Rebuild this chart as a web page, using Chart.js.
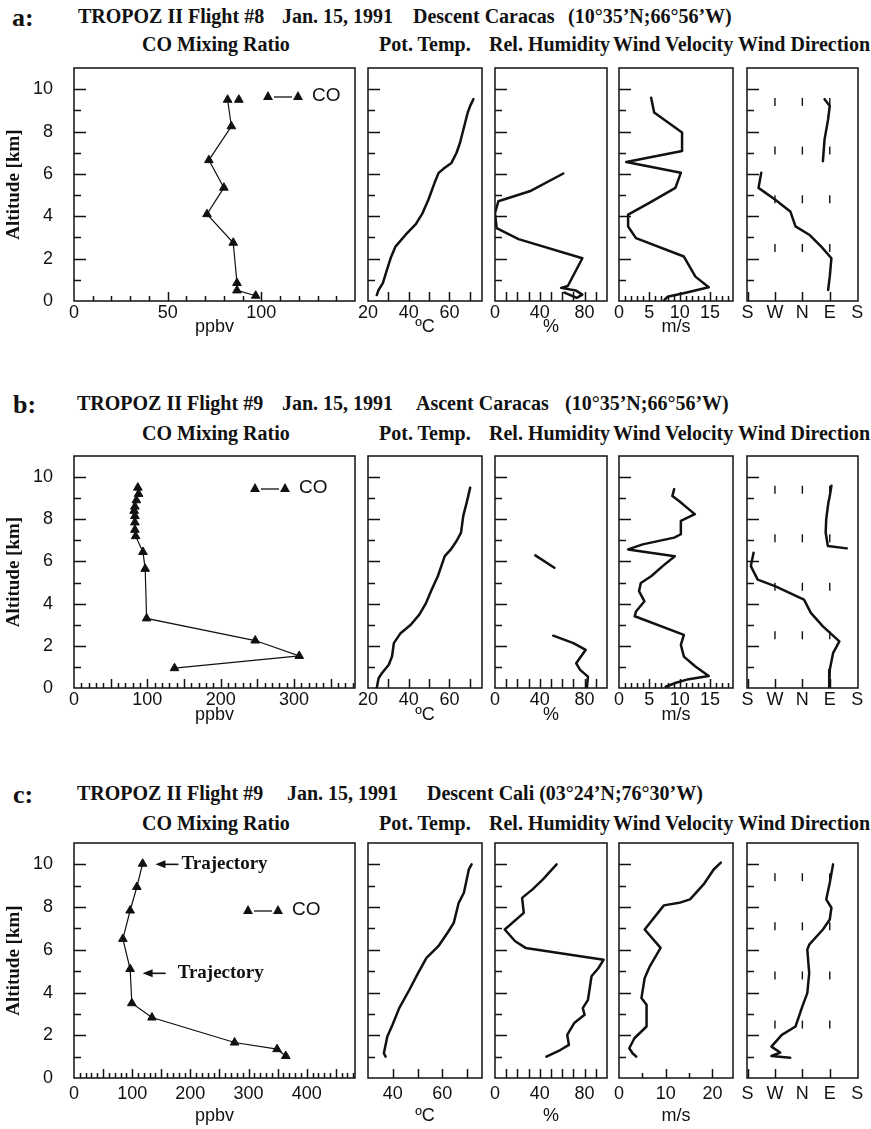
<!DOCTYPE html>
<html>
<head>
<meta charset="utf-8">
<title>TROPOZ II profiles</title>
<script src="https://cdn.jsdelivr.net/npm/chart.js@4.4.1/dist/chart.umd.min.js"></script>
<style>
  html, body { margin: 0; padding: 0; background: #fff; }
  #page { position: relative; width: 871px; height: 1129px; overflow: hidden; }
  #page canvas { position: absolute; }
  .lbl { position: absolute; white-space: pre; font-family: "Liberation Serif", "Times New Roman", serif;
         font-weight: bold; color: #111; line-height: 1; }
</style>
</head>
<body>
<div id="page"></div>
<script>
// values; altitude in km
// wind direction in quarter turns starting at S (S=0, W=1, N=2, E=3, S=4), null = gap in the trace

// a: flight #8, descent Caracas
const aCoPpbv = [88, null, 82, 84, 72, 80, 71, 85, 87, 87, 97];
const aCoAlt = [9.5, null, 9.5, 8.25, 6.65, 5.35, 4.1, 2.75, 0.85, 0.5, 0.25];
const aThetaC = [24.3, 25.2, 27.3, 29.3, 31.3, 33.5, 38.5, 43.5, 46.8, 49.7, 52.7, 54.7, 57.7, 61, 63.5, 65.2, 67.3, 69, 70.2, 71.8];
const aThetaAlt = [0.28, 0.52, 0.84, 1.47, 2.07, 2.57, 3.13, 3.63, 4.15, 4.79, 5.58, 6.05, 6.29, 6.52, 7.0, 7.47, 8.26, 8.9, 9.21, 9.53];
const aRhPct = [61, 31, 3, 0, 1.5, 21, 78, 65, 59, 72, 78, 73, 62];
const aRhAlt = [6.02, 5.18, 4.71, 4.15, 3.44, 2.92, 2.02, 0.71, 0.62, 0.5, 0.3, 0.15, 0.4];
const aWindMs = [5.3, 5.8, 10.4, 10.4, 1.2, 10.2, 9.3, 5.0, 1.5, 1.5, 2.8, 10.7, 12.6, 14.8, 11, 8.0, 7.5];
const aWindAlt = [9.6, 8.9, 7.95, 7.08, 6.56, 6.05, 5.34, 4.63, 4.08, 3.52, 2.97, 2.1, 1.15, 0.65, 0.39, 0.2, 0.05];
const aDirQ = [2.81, 3.0, 2.94, 2.81, 2.75, null, 0.5, 0.4, 1.0, 1.56, 1.75, 2.25, 2.69, 3.06, 3.0, 2.94];
const aDirAlt = [9.53, 9.21, 8.58, 7.63, 6.6, null, 6.05, 5.34, 4.79, 4.23, 3.52, 3.13, 2.57, 2.02, 1.15, 0.52];

// b: flight #9, ascent Caracas
const bCoPpbv = [87, 88, 85, 83, 82, 83, 83, 83, 84, 94, 97, 99, 247, 307, 137];
const bCoAlt = [9.5, 9.2, 8.9, 8.6, 8.4, 8.15, 7.85, 7.5, 7.2, 6.45, 5.65, 3.3, 2.25, 1.52, 0.94];
const bThetaC = [24.3, 25.2, 26.8, 30.2, 31.8, 32.7, 36, 41, 45.2, 48.5, 51.3, 54.3, 57.7, 60.7, 63.5, 65.7, 66.8, 68.5, 70.2];
const bThetaAlt = [0, 0.46, 0.7, 1.1, 1.49, 2.13, 2.6, 3.0, 3.48, 4.03, 4.67, 5.3, 6.25, 6.57, 6.97, 7.37, 8.16, 8.8, 9.5];
const bRhPct = [36, 53, null, 52, 70, 81, 72.5, 76, 83, 82];
const bRhAlt = [6.29, 5.7, null, 2.48, 2.13, 1.81, 1.17, 0.86, 0.54, 0];
const bWindMs = [9.1, 8.8, 9.9, 11.5, 12.5, 10.2, 10.2, 9.1, 3.9, 1.5, 9.2, 7.2, 5.3, 3.6, 3.3, 4.2, 2.8, 2.6, 10.7, 10.2, 10.7, 12.6, 14.8, 11.5, 9.4, 7.7];
const bWindAlt = [9.43, 9.1, 8.87, 8.48, 8.24, 7.92, 7.29, 7.13, 6.81, 6.57, 6.25, 5.78, 5.3, 4.98, 4.59, 4.11, 3.63, 3.4, 2.52, 2.05, 1.49, 1.02, 0.57, 0.42, 0.25, 0.06];
const bDirQ = [3.06, 3.0, 2.95, 2.87, 2.85, 2.93, 3.62, null, 0.22, 0.12, 0.37, 1.0, 2.06, 2.31, 2.75, 3.35, 3.12, 3.0, 2.98];
const bDirAlt = [9.59, 9.1, 8.8, 8.0, 7.37, 6.73, 6.62, null, 6.41, 5.78, 5.14, 4.83, 4.19, 3.56, 2.92, 2.21, 1.65, 0.86, 0];

// c: flight #9, descent Cali
const cCoPpbv = [118, 108, 96.5, 84, 96.5, 99.4, 134, 276, 349, 364];
const cCoAlt = [10.03, 8.94, 7.84, 6.51, 5.1, 3.5, 2.83, 1.66, 1.35, 1.03];
const cThetaC = [37.1, 36.4, 37.8, 39.9, 42.6, 46.7, 50.2, 53.6, 58.4, 62.5, 64.6, 66.6, 68.7, 70.7, 71.8];
const cThetaAlt = [1.0, 1.16, 1.94, 2.49, 3.27, 4.13, 4.91, 5.62, 6.17, 6.87, 7.26, 8.2, 8.67, 9.77, 10.0];
const cRhPct = [55, 42.8, 33.5, 24.2, 25.7, 8.7, 18, 27.3, 97, 92.4, 86.2, 83, 78.4, 80, 70.7, 64.5, 66, 58.3, 45.9];
const cRhAlt = [10.0, 9.3, 8.83, 8.43, 7.73, 6.95, 6.4, 6.09, 5.54, 5.15, 4.76, 3.66, 3.27, 2.96, 2.57, 2.02, 1.55, 1.31, 1.0];
const cWindMs = [21.8, 20.3, 18.1, 15.2, 12.9, 9.6, 5.5, 8.9, 6.6, 5.5, 4.8, 5.9, 5.9, 3.3, 2.2, 2.9, 3.7];
const cWindAlt = [10.08, 9.77, 9.06, 8.36, 8.2, 8.08, 6.95, 6.09, 5.23, 4.68, 3.74, 3.43, 2.41, 1.86, 1.39, 1.16, 1.0];
const cDirQ = [3.12, 3.0, 2.87, 3.06, 3.0, 2.75, 2.25, 2.18, 2.25, 2.18, 2.0, 1.75, 1.25, 0.87, 1.19, 0.87, 1.56];
const cDirAlt = [10.0, 9.14, 8.36, 7.97, 7.42, 6.95, 6.24, 6.01, 4.91, 3.97, 3.35, 2.41, 2.02, 1.47, 1.19, 1.03, 0.95];

// small guide marks in the wind direction boxes
const markAlt = [2.5, 4.8, 7.1, 9.4];
const markDir = [1, 2, 3];
const dirNames = ['S', 'W', 'N', 'E', 'S'];

// "Trajectory" arrows in panel c (ppbv, km)
const trajPpbv = [140, 118];
const trajAlt = [10.0, 4.9];

const ink = '#111';
const serif = '"Liberation Serif", "Times New Roman", serif';
const sans = '"Liberation Sans", Arial, sans-serif';
const page = document.getElementById('page');

function addText(x, cy, size, s) {
  const d = document.createElement('div');
  d.className = 'lbl';
  d.style.left = x + 'px';
  d.style.top = (cy - size * 0.51) + 'px';
  d.style.fontSize = size + 'px';
  d.textContent = s;
  page.appendChild(d);
}

const xy = (xs, ys) => xs.map((v, i) => ({x: v, y: ys[i]}));

function tri(ctx, x, y) {
  ctx.beginPath();
  ctx.moveTo(x, y - 5);
  ctx.lineTo(x + 5, y + 4);
  ctx.lineTo(x - 5, y + 4);
  ctx.closePath();
  ctx.fill();
}

// box with inward ticks, like the original
const framePlugin = {
  id: 'frame',
  afterDraw(chart, args, o) {
    const {ctx, chartArea: a} = chart;
    const xs = chart.scales.x, ys = chart.scales.y;
    ctx.save();
    ctx.strokeStyle = ink;
    ctx.lineWidth = 1.5;
    ctx.strokeRect(a.left, a.top, a.right - a.left, a.bottom - a.top);
    ctx.beginPath();
    for (let v = 1; v < ys.max; v++) {
      const py = Math.round(ys.getPixelForValue(v)) + 0.5;
      ctx.moveTo(a.left, py);
      ctx.lineTo(a.left + (v % 2 === 0 ? 12 : 7), py);
    }
    const first = Math.ceil(xs.min / o.minor) * o.minor;
    for (let v = first; v < xs.max; v += o.minor) {
      const px = Math.round(xs.getPixelForValue(v)) + 0.5;
      if (px <= a.left + 1 || px >= a.right - 1) continue;
      const major = Math.abs(v / o.major - Math.round(v / o.major)) < 1e-6;
      ctx.moveTo(px, a.bottom);
      ctx.lineTo(px, a.bottom - (major ? 9 : 5));
    }
    ctx.stroke();
    ctx.restore();
  }
};

// CO key and trajectory arrows
const notesPlugin = {
  id: 'notes',
  afterDatasetsDraw(chart, args, o) {
    const {ctx, chartArea: a} = chart;
    ctx.save();
    ctx.fillStyle = ink;
    ctx.strokeStyle = ink;
    if (o.key) {
      const x0 = a.left + o.key[0], y0 = a.top + o.key[1];
      tri(ctx, x0, y0);
      tri(ctx, x0 + 30, y0);
      ctx.lineWidth = 1.3;
      ctx.beginPath();
      ctx.moveTo(x0 + 6, y0 + 1);
      ctx.lineTo(x0 + 24, y0 + 1);
      ctx.stroke();
      ctx.font = '19px ' + sans;
      ctx.textBaseline = 'middle';
      ctx.fillText('CO', x0 + 44, y0);
    }
    if (o.arrows) {
      const xs = chart.scales.x, ys = chart.scales.y;
      o.arrows.forEach((ar, i) => {
        const px = xs.getPixelForValue(trajPpbv[i]);
        const py = ys.getPixelForValue(trajAlt[i]);
        ctx.beginPath();
        ctx.moveTo(px, py);
        ctx.lineTo(px + 10, py - 4);
        ctx.lineTo(px + 10, py + 4);
        ctx.closePath();
        ctx.fill();
        ctx.lineWidth = 1.6;
        ctx.beginPath();
        ctx.moveTo(px + 8, py);
        ctx.lineTo(px + ar.shaft, py);
        ctx.stroke();
        ctx.font = 'bold 19px ' + serif;
        ctx.textBaseline = 'middle';
        ctx.fillText('Trajectory', px + ar.shaft + ar.gap, py);
      });
    }
    ctx.restore();
  }
};

const line = (xs, ys) => ({
  data: xy(xs, ys), showLine: true, borderColor: ink, borderWidth: 2.5,
  pointRadius: 0, spanGaps: false, borderJoinStyle: 'round', borderCapStyle: 'round'
});
const coLine = (xs, ys) => ({
  data: xy(xs, ys), showLine: true, borderColor: ink, borderWidth: 1.2, spanGaps: false,
  pointStyle: 'triangle', pointRadius: 5, pointBackgroundColor: ink, pointBorderColor: ink, pointBorderWidth: 1
});
const marks = () => ({
  data: markAlt.flatMap(h => markDir.map(d => ({x: d, y: h}))),
  showLine: false, pointStyle: 'line', rotation: 90, pointRadius: 4,
  pointBorderColor: ink, pointBorderWidth: 1.4
});

const cols = {co: [74, 355], pt: [368, 482], rh: [495, 607], wv: [619, 733], wd: [747, 858]};
const padT = 36, padR = 16;

function panel(row, col, spec) {
  const [L, R] = cols[col];
  const padL = col === 'co' ? 74 : 16;
  const w = R - L + padL + padR, h = row.bottom - row.top + padT + row.padB;
  const c = document.createElement('canvas');
  c.width = w; c.height = h;
  c.style.left = (L - padL) + 'px';
  c.style.top = (row.top - padT) + 'px';
  c.style.width = w + 'px';
  c.style.height = h + 'px';
  page.appendChild(c);
  new Chart(c, {
    type: 'scatter',
    data: {datasets: spec.datasets},
    options: {
      responsive: false,
      animation: false,
      events: [],
      layout: {padding: {top: padT, right: padR, left: 0, bottom: 0}},
      plugins: {
        legend: {display: false},
        tooltip: {enabled: false},
        frame: {minor: spec.minor, major: spec.major},
        notes: spec.notes || {}
      },
      scales: {
        x: {
          type: 'linear', min: spec.min, max: spec.max,
          grid: {display: false, drawTicks: false},
          border: {display: false},
          ticks: {
            stepSize: spec.step, includeBounds: false, autoSkip: false, maxRotation: 0,
            padding: row.lblPad, color: ink, font: {family: sans, size: 18},
            callback: spec.fmt || (v => v)
          },
          title: {display: !!spec.unit, text: spec.unit, color: ink, font: {family: sans, size: 18}, padding: 0},
          afterFit: s => { s.height = row.padB; }
        },
        y: {
          type: 'linear', min: 0, max: 11,
          grid: {display: false, drawTicks: false},
          border: {display: false},
          ticks: {display: col === 'co', stepSize: 2, includeBounds: false, padding: 21, color: ink, font: {family: sans, size: 18}},
          title: {display: col === 'co', text: 'Altitude [km]', color: ink,
                  font: {family: serif, size: 19, weight: 'bold'}, padding: {top: 3, bottom: 0}},
          afterFit: s => { s.width = padL; }
        }
      }
    },
    plugins: [framePlugin, notesPlugin]
  });
}

const rowA = {top: 68, bottom: 301, padB: 37, lblPad: 1};
const rowB = {top: 456, bottom: 688, padB: 38, lblPad: 1};
const rowC = {top: 843, bottom: 1078, padB: 49, lblPad: 5};
const dirFmt = v => dirNames[Math.round(v)];

// row titles
addText(12, 18, 26, 'a:');
addText(78, 16, 20, 'TROPOZ II Flight #8');
addText(282, 16, 20, 'Jan. 15, 1991');
addText(413, 16, 20, 'Descent Caracas');
addText(568, 16, 20, '(10°35’N;66°56’W)');

addText(13, 405, 26, 'b:');
addText(77, 403, 20, 'TROPOZ II Flight #9');
addText(282, 403, 20, 'Jan. 15, 1991');
addText(416, 403, 20, 'Ascent Caracas');
addText(565, 403, 20, '(10°35’N;66°56’W)');

addText(13, 795, 26, 'c:');
addText(77, 793, 20, 'TROPOZ II Flight #9');
addText(287, 793, 20, 'Jan. 15, 1991');
addText(427, 793, 20, 'Descent Cali (03°24’N;76°30’W)');

const subs = [[142, 'CO Mixing Ratio'], [379, 'Pot. Temp.'], [489, 'Rel. Humidity'], [613, 'Wind Velocity'], [738, 'Wind Direction']];
[44, 433, 823].forEach(cy => subs.forEach(([x, s]) => addText(x, cy, 20, s)));

// row a
panel(rowA, 'co', {min: 0, max: 150, step: 50, minor: 10, major: 50, unit: 'ppbv', fmt: v => (v > 100 ? '' : v),
  datasets: [coLine(aCoPpbv, aCoAlt)], notes: {key: [194, 28]}});
panel(rowA, 'pt', {min: 20, max: 76, step: 20, minor: 10, major: 10, unit: 'ºC', datasets: [line(aThetaC, aThetaAlt)]});
panel(rowA, 'rh', {min: 0, max: 100, step: 40, minor: 10, major: 10, unit: '%', datasets: [line(aRhPct, aRhAlt)]});
panel(rowA, 'wv', {min: 0, max: 18.8, step: 5, minor: 1, major: 5, unit: 'm/s', datasets: [line(aWindMs, aWindAlt)]});
panel(rowA, 'wd', {min: -0.02, max: 4.03, step: 1, minor: 1, major: 1, fmt: dirFmt, datasets: [marks(), line(aDirQ, aDirAlt)]});

// row b
panel(rowB, 'co', {min: 0, max: 383, step: 100, minor: 10, major: 50, unit: 'ppbv',
  datasets: [coLine(bCoPpbv, bCoAlt)], notes: {key: [181, 32]}});
panel(rowB, 'pt', {min: 20, max: 76, step: 20, minor: 10, major: 10, unit: 'ºC', datasets: [line(bThetaC, bThetaAlt)]});
panel(rowB, 'rh', {min: 0, max: 100, step: 40, minor: 10, major: 10, unit: '%', datasets: [line(bRhPct, bRhAlt)]});
panel(rowB, 'wv', {min: 0, max: 18.8, step: 5, minor: 1, major: 5, unit: 'm/s', datasets: [line(bWindMs, bWindAlt)]});
panel(rowB, 'wd', {min: -0.02, max: 4.03, step: 1, minor: 1, major: 1, fmt: dirFmt, datasets: [marks(), line(bDirQ, bDirAlt)]});

// row c
panel(rowC, 'co', {min: 0, max: 483, step: 100, minor: 10, major: 50, unit: 'ppbv',
  datasets: [coLine(cCoPpbv, cCoAlt)],
  notes: {key: [174, 67], arrows: [{shaft: 23, gap: 3}, {shaft: 23, gap: 12}]}});
panel(rowC, 'pt', {min: 30, max: 76, step: 20, minor: 10, major: 10, unit: 'ºC', datasets: [line(cThetaC, cThetaAlt)]});
panel(rowC, 'rh', {min: 0, max: 100, step: 40, minor: 10, major: 10, unit: '%', datasets: [line(cRhPct, cRhAlt)]});
panel(rowC, 'wv', {min: 0, max: 24.4, step: 10, minor: 5, major: 10, unit: 'm/s', datasets: [line(cWindMs, cWindAlt)]});
panel(rowC, 'wd', {min: -0.02, max: 4.03, step: 1, minor: 1, major: 1, fmt: dirFmt, datasets: [marks(), line(cDirQ, cDirAlt)]});
</script>
</body>
</html>
